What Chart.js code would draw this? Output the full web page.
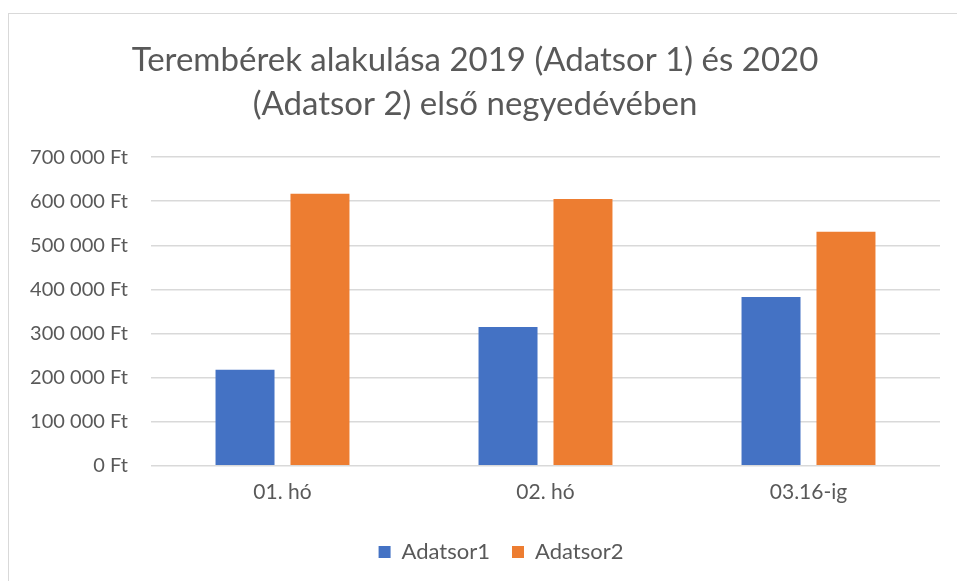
<!DOCTYPE html>
<html>
<head>
<meta charset="utf-8">
<script src="https://cdn.jsdelivr.net/npm/chart.js@4"></script>
<style>
  html, body { margin: 0; padding: 0; background: #fff; overflow: hidden; }
  #frame { position: absolute; left: 8px; top: 13px; width: 980px; height: 600px; border: 1px solid #d9d9d9; }
  #wrap { position: absolute; left: 0; top: 0; width: 957px; height: 581px; }
</style>
</head>
<body>
<div id="frame"></div>
<div id="wrap"><canvas id="myChart"></canvas></div>
<script>
var categories = ['01. hó', '02. hó', '03.16-ig'];
var adatsor1 = [218000, 315000, 383000];
var adatsor2 = [617000, 605000, 531000];
var seriesNames = ['Adatsor1', 'Adatsor2'];
var titleLines = ['Terembérek alakulása 2019 (Adatsor 1) és 2020', '(Adatsor 2) első negyedévében'];

function ft(v) {
    // 700000 -> "700 000 Ft"
    return String(v).replace(/\B(?=(\d{3})+(?!\d))/g, ' ') + ' Ft';
}

// legend in the original sits a bit right of centre
var shiftLegend = {
    id: 'shiftLegend',
    afterLayout: function(chart) {
        chart.legend.left += 26;
        chart.legend.right += 26;
    }
};

var ctx = document.getElementById('myChart').getContext('2d');
var chart = new Chart(ctx, {
    type: 'bar',
    data: {
        labels: categories,
        datasets: [{
            label: seriesNames[0],
            backgroundColor: '#4472c4',
            data: adatsor1
        }, {
            label: seriesNames[1],
            backgroundColor: '#ed7d31',
            data: adatsor2
        }]
    },
    plugins: [shiftLegend],
    options: {
        responsive: true,
        maintainAspectRatio: false,
        animation: false,
        categoryPercentage: 0.57,
        barPercentage: 0.787,
        layout: { padding: { left: 10, right: 17, top: 14, bottom: 8 } },
        plugins: {
            title: {
                display: true,
                text: titleLines,
                color: '#595959',
                font: { family: 'Lato', size: 33, weight: 'normal', lineHeight: 1.32 },
                padding: { top: 25, bottom: 31 }
            },
            legend: {
                position: 'bottom',
                labels: {
                    color: '#595959',
                    boxWidth: 12,
                    boxHeight: 12,
                    padding: 22,
                    font: { family: 'Lato', size: 22 }
                }
            },
            tooltip: { enabled: false }
        },
        scales: {
            x: {
                grid: { display: false, drawTicks: false },
                border: { display: false },
                ticks: { color: '#595959', padding: 14, font: { family: 'Lato', size: 21 } }
            },
            y: {
                min: 0,
                max: 700000,
                afterFit: function(scale) { scale.width = 141; },
                grid: { color: '#d9d9d9', lineWidth: 1.5, drawTicks: false },
                border: { display: false },
                ticks: {
                    stepSize: 100000,
                    color: '#595959',
                    padding: 23,
                    font: { family: 'Lato', size: 20 },
                    callback: function(v) { return ft(v); }
                }
            }
        }
    }
});
</script>
</body>
</html>
